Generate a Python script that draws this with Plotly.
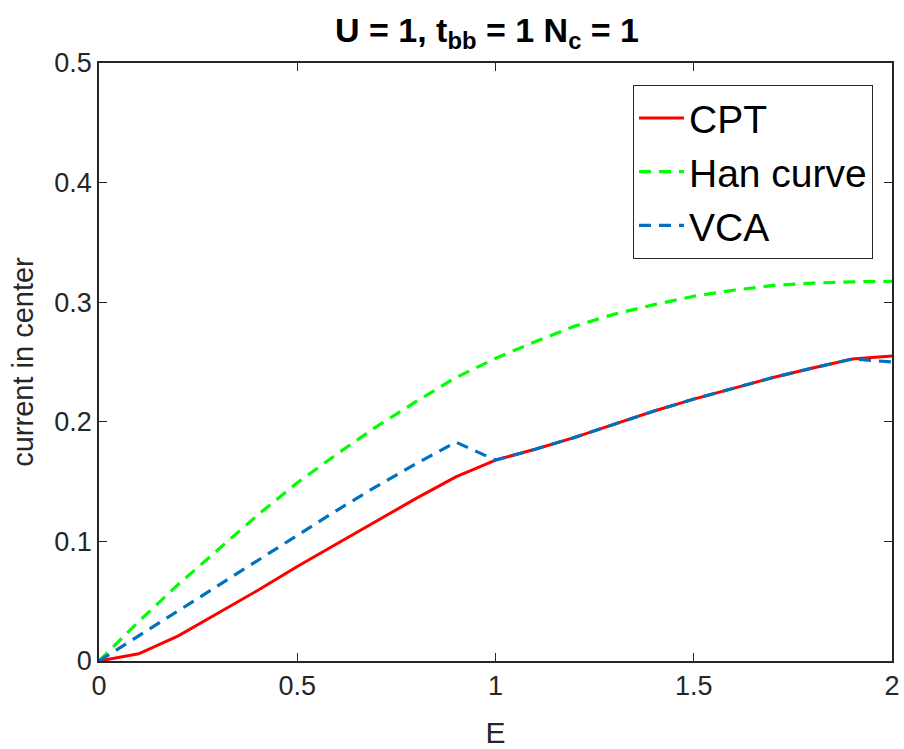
import plotly.graph_objects as go

# Field strength E (x axis)
E = [0.0, 0.1, 0.2, 0.3, 0.4, 0.5, 0.6, 0.7, 0.8, 0.9, 1.0,
     1.1, 1.2, 1.3, 1.4, 1.5, 1.6, 1.7, 1.8, 1.9, 2.0]

# Current in the central site for each method
cpt = [0.0, 0.006, 0.021, 0.040, 0.059, 0.079, 0.098, 0.117, 0.136, 0.154, 0.168,
       0.177, 0.187, 0.198, 0.209, 0.219, 0.228, 0.237, 0.245, 0.2525, 0.255]
han = [0.0, 0.033, 0.064, 0.093, 0.122, 0.149, 0.173, 0.196, 0.217, 0.237, 0.253,
       0.267, 0.280, 0.290, 0.298, 0.305, 0.310, 0.314, 0.316, 0.317, 0.3175]
vca = [0.0, 0.021, 0.042, 0.063, 0.084, 0.105, 0.126, 0.146, 0.165, 0.183, 0.168,
       0.177, 0.187, 0.198, 0.209, 0.219, 0.228, 0.237, 0.245, 0.2525, 0.250]

x_ticks = [0, 0.5, 1, 1.5, 2]
x_tick_labels = ["0", "0.5", "1", "1.5", "2"]
y_ticks = [0, 0.1, 0.2, 0.3, 0.4, 0.5]
y_tick_labels = ["0", "0.1", "0.2", "0.3", "0.4", "0.5"]

FONT = "Liberation Sans, Arial, sans-serif"
AXIS_COLOR = "#262626"
DASH = "12px,8px"

fig = go.Figure()
fig.add_trace(go.Scatter(x=E, y=cpt, mode="lines", name="CPT",
                         line=dict(color="#FF0000", width=3)))
fig.add_trace(go.Scatter(x=E, y=han, mode="lines", name="Han curve",
                         line=dict(color="#00FF00", width=3.2, dash=DASH)))
fig.add_trace(go.Scatter(x=E, y=vca, mode="lines", name="VCA",
                         line=dict(color="#0072BD", width=3.2, dash=DASH)))

axis_common = dict(
    showline=True, linecolor=AXIS_COLOR, linewidth=1.5, mirror="ticks",
    ticks="inside", ticklen=8, tickwidth=1.2, tickcolor=AXIS_COLOR,
    showgrid=False, zeroline=False, automargin=False,
    tickfont=dict(family=FONT, size=27, color=AXIS_COLOR),
)

fig.update_layout(
    width=904, height=749,
    paper_bgcolor="white", plot_bgcolor="white",
    margin=dict(l=99, r=12, t=63, b=88, autoexpand=False),
    title=dict(
        text="<b>U = 1, t<sub>bb</sub> = 1 N<sub>c</sub> = 1</b>",
        x=487 / 904, xanchor="center",
        y=1 - 30 / 749, yanchor="middle",
        font=dict(family=FONT, size=34, color="black"),
    ),
    xaxis=dict(range=[0, 2], tickvals=x_ticks, ticktext=x_tick_labels,
               title=dict(text="E", font=dict(family=FONT, size=30, color=AXIS_COLOR),
                          standoff=24),
               **axis_common),
    yaxis=dict(range=[0, 0.5], tickvals=y_ticks, ticktext=y_tick_labels,
               title=dict(text="current in center",
                          font=dict(family=FONT, size=29, color=AXIS_COLOR),
                          standoff=12),
               **axis_common),
    legend=dict(
        x=0.976, y=0.963, xanchor="right", yanchor="top",
        bgcolor="white", bordercolor=AXIS_COLOR, borderwidth=1,
        font=dict(family=FONT, size=39, color="black"),
        itemwidth=45,
        tracegroupgap=0,
    ),
    showlegend=True,
)

fig.write_html("out.html")
